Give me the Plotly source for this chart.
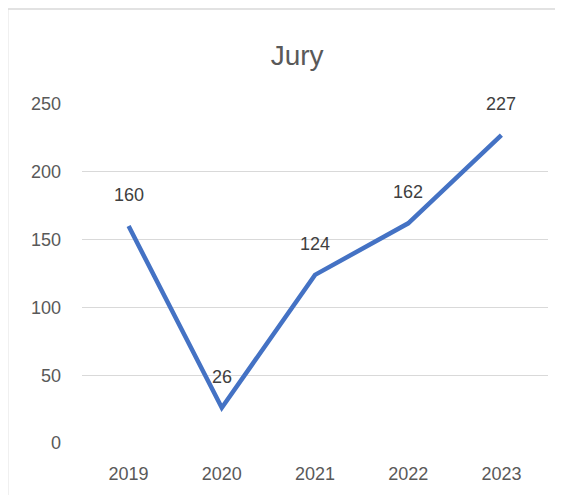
import plotly.graph_objects as go

years = ["2019", "2020", "2021", "2022", "2023"]
jury = [160, 26, 124, 162, 227]
y_ticks = [0, 50, 100, 150, 200, 250]

FONT = "Liberation Sans"

fig = go.Figure()
fig.add_trace(go.Scatter(
    x=years, y=jury, mode="lines",
    line=dict(color="#4472C4", width=4.5),
    hoverinfo="skip", showlegend=False,
))
for i, yv in enumerate(jury):
    fig.add_annotation(x=i, y=yv, text=str(yv), showarrow=False, yshift=31,
                       font=dict(size=18, color="#404040", family=FONT))

# chart-area border (top and left visible, right/bottom cropped)
fig.add_shape(type="rect", xref="paper", yref="paper",
              x0=-74 / 458 + 0.002, y0=-1, x1=2, y1=1 + 96 / 339 - 0.003,
              line=dict(color="#d9d9d9", width=1.5), layer="below")

fig.update_layout(
    width=555, height=487,
    margin=dict(l=74, r=15, t=96, b=52),
    paper_bgcolor="white", plot_bgcolor="white",
    title=dict(text="Jury", x=0.521, xanchor="center", y=0.9035, yanchor="middle",
               font=dict(size=28, color="#595959", family=FONT)),
    font=dict(family=FONT, color="#595959", size=18),
    xaxis=dict(type="category", range=[-0.5, 4.5], showgrid=False, zeroline=False,
               showline=False, ticks="", ticklabelstandoff=18,
               tickfont=dict(size=18, color="#595959")),
    yaxis=dict(range=[0, 250], tickvals=y_ticks, showgrid=True, gridcolor="#d9d9d9",
               gridwidth=1, zeroline=False, showline=False, ticks="",
               ticklabelstandoff=20, tickfont=dict(size=18, color="#595959")),
)
fig.write_html("out.html")
